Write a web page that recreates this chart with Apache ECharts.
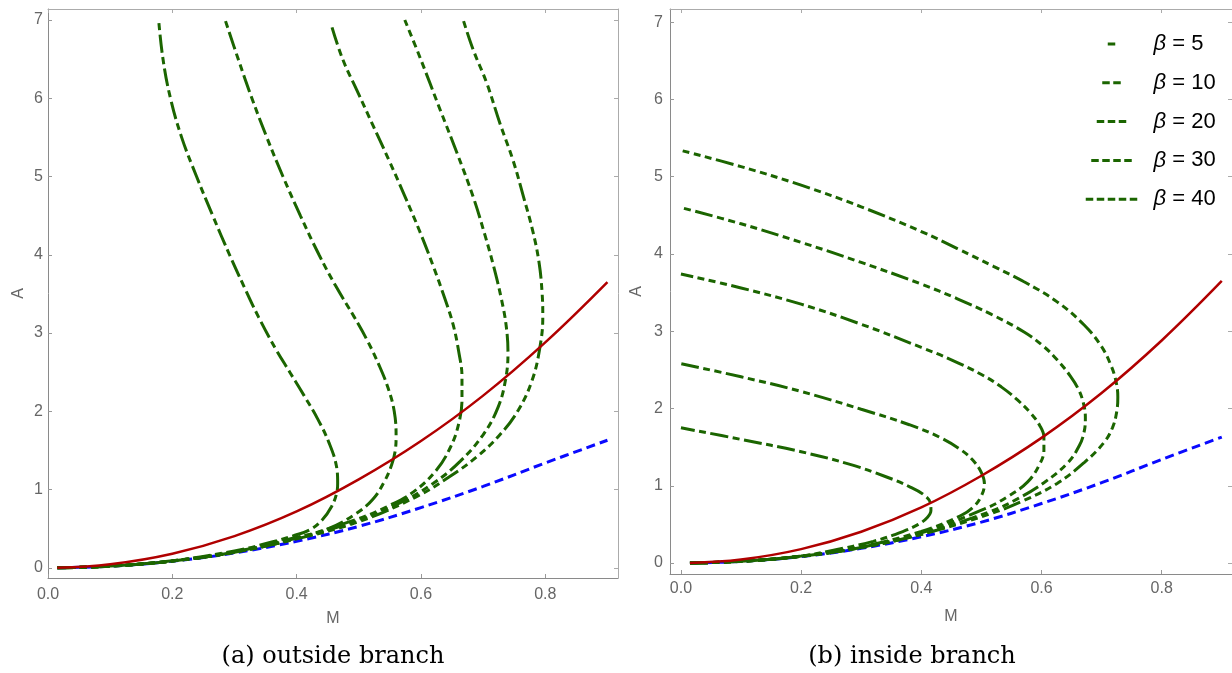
<!DOCTYPE html>
<html><head><meta charset="utf-8">
<script src="https://cdn.jsdelivr.net/npm/echarts@6/dist/echarts.min.js"></script>
<style>html,body{margin:0;padding:0;background:#fff}#c{width:1232px;height:673px}</style>
</head><body><div id="c"></div><script>
// ---------- data ----------
const betaNames = ['β = 5', 'β = 10', 'β = 20', 'β = 30', 'β = 40'];
const legendDashCount = [1, 2, 3, 4, 5];
const xTicks = [0, 0.2, 0.4, 0.6, 0.8];
const yTicks = [0, 1, 2, 3, 4, 5, 6, 7];
const captions = ['(a) outside branch', '(b) inside branch'];

const redCurve = [[0.015,0.001],[0.1,0.045],[0.2,0.18],[0.3,0.405],[0.4,0.72],[0.5,1.13],[0.6,1.62],[0.7,2.2],[0.8,2.88],[0.9,3.65]];
const blueCurve = [[0.015,0.0005],[0.1,0.021],[0.2,0.084],[0.3,0.19],[0.4,0.34],[0.5,0.53],[0.6,0.77],[0.7,1.04],[0.8,1.34],[0.9,1.63]];

// (a) outside branch
const outside5 = [[0.015,0],[0.1,0.022],[0.2,0.09],[0.3,0.215],[0.36,0.33],[0.395,0.41],[0.422,0.49],[0.442,0.62],[0.456,0.78],[0.464,0.94],[0.466,1.08],[0.464,1.3],[0.452,1.6],[0.434,1.9],[0.412,2.2],[0.389,2.5],[0.366,2.8],[0.339,3.2],[0.315,3.6],[0.292,4.0],[0.265,4.5],[0.239,5.0],[0.215,5.5],[0.197,6.0],[0.185,6.5],[0.178,7.0]];
const outside10 = [[0.015,0],[0.1,0.022],[0.2,0.088],[0.3,0.205],[0.4,0.39],[0.448,0.49],[0.497,0.70],[0.523,0.88],[0.541,1.1],[0.553,1.32],[0.559,1.52],[0.560,1.68],[0.557,2.0],[0.547,2.3],[0.532,2.6],[0.514,2.9],[0.493,3.2],[0.463,3.6],[0.436,4.0],[0.406,4.5],[0.378,5.0],[0.352,5.5],[0.328,6.0],[0.306,6.5],[0.285,7.0]];
const outside20 = [[0.015,0],[0.1,0.022],[0.2,0.087],[0.3,0.2],[0.4,0.38],[0.5,0.63],[0.545,0.78],[0.588,0.97],[0.625,1.25],[0.648,1.55],[0.661,1.85],[0.666,2.15],[0.666,2.44],[0.661,2.75],[0.652,3.1],[0.638,3.45],[0.620,3.85],[0.598,4.3],[0.574,4.75],[0.549,5.2],[0.523,5.65],[0.497,6.1],[0.474,6.5],[0.456,6.93]];
const outside30 = [[0.015,0],[0.1,0.022],[0.2,0.087],[0.3,0.2],[0.4,0.375],[0.5,0.61],[0.566,0.83],[0.62,1.08],[0.663,1.36],[0.7,1.70],[0.724,2.05],[0.736,2.4],[0.740,2.75],[0.737,3.1],[0.729,3.45],[0.717,3.85],[0.703,4.25],[0.684,4.74],[0.658,5.30],[0.631,5.85],[0.598,6.53],[0.574,7.0]];
const outside40 = [[0.015,0],[0.1,0.022],[0.2,0.087],[0.3,0.2],[0.4,0.37],[0.5,0.59],[0.593,0.91],[0.647,1.17],[0.69,1.42],[0.727,1.70],[0.757,2.02],[0.779,2.40],[0.791,2.80],[0.796,3.2],[0.795,3.5],[0.790,3.9],[0.780,4.3],[0.765,4.74],[0.748,5.21],[0.727,5.68],[0.706,6.19],[0.684,6.62],[0.668,7.0]];

// (b) inside branch
const inside5 = [[0.015,0],[0.1,0.022],[0.2,0.09],[0.25,0.16],[0.32,0.28],[0.37,0.41],[0.395,0.50],[0.41,0.59],[0.416,0.68],[0.415,0.78],[0.403,0.89],[0.38,0.99],[0.34,1.12],[0.28,1.28],[0.2,1.44],[0.1,1.60],[0,1.75]];
const inside10 = [[0.015,0],[0.1,0.022],[0.2,0.089],[0.3,0.21],[0.4,0.41],[0.465,0.61],[0.486,0.72],[0.5,0.87],[0.505,1.03],[0.5,1.17],[0.487,1.32],[0.465,1.47],[0.43,1.63],[0.38,1.79],[0.3,1.99],[0.2,2.22],[0.1,2.41],[0,2.58]];
const inside20 = [[0.015,0],[0.1,0.022],[0.2,0.088],[0.3,0.205],[0.4,0.39],[0.505,0.70],[0.544,0.86],[0.577,1.05],[0.597,1.28],[0.604,1.46],[0.604,1.63],[0.597,1.78],[0.582,1.94],[0.560,2.11],[0.533,2.28],[0.5,2.44],[0.45,2.63],[0.4,2.79],[0.3,3.09],[0.2,3.35],[0.1,3.56],[0,3.74]];
const inside30 = [[0.015,0],[0.1,0.022],[0.2,0.088],[0.3,0.2],[0.4,0.375],[0.516,0.67],[0.56,0.83],[0.604,1.04],[0.643,1.29],[0.663,1.52],[0.671,1.70],[0.673,1.88],[0.670,2.06],[0.662,2.24],[0.648,2.42],[0.626,2.63],[0.604,2.80],[0.571,2.99],[0.516,3.22],[0.46,3.42],[0.4,3.61],[0.3,3.89],[0.2,4.15],[0.1,4.39],[0,4.60]];
const inside40 = [[0.015,0],[0.1,0.022],[0.2,0.087],[0.3,0.2],[0.4,0.37],[0.516,0.64],[0.571,0.81],[0.626,1.03],[0.671,1.30],[0.704,1.56],[0.718,1.75],[0.725,1.95],[0.727,2.15],[0.724,2.35],[0.716,2.55],[0.700,2.80],[0.671,3.08],[0.626,3.38],[0.571,3.64],[0.52,3.84],[0.46,4.07],[0.4,4.29],[0.3,4.61],[0.2,4.89],[0.1,5.13],[0,5.34]];

const outsideCurves = [outside5, outside10, outside20, outside30, outside40];
const insideCurves = [inside5, inside10, inside20, inside30, inside40];

// ---------- styling ----------
const GREEN = '#1b6500', RED = '#b00000', BLUE = '#0a0aff';
const TICK_COLOR = '#666';
const FONT = 'Liberation Sans';

function curveDash(nShort) {
  const a = [18, 4.5];
  for (let i = 0; i < nShort; i++) a.push(7, 4.5);
  return a;
}
function legendDash(n) {
  const d = 7.5, g = 3.5, L = n * d + (n - 1) * g, off = 37 - L / 2;
  const a = [0, off];
  for (let i = 0; i < n; i++) { a.push(d); a.push(i < n - 1 ? g : 300); }
  return a;
}

const grids = [
  { left: 48, top: 9, width: 570, height: 569 },
  { left: 670, top: 9, width: 566, height: 565 }
];
const xRanges = [[0, 0.917], [-0.0182, 0.917]];
const yRanges = [[-0.13, 7.14], [-0.142, 7.17]];
const xLabelMargin = [9, 7], xNameGap = [33, 35];
const yLabelMargin = [5, 7], yNameGap = [21, 25];

const xAxes = [], yAxes = [];
for (let g = 0; g < 2; g++) {
  xAxes.push({
    type: 'value', gridIndex: g, position: 'bottom', min: xRanges[g][0], max: xRanges[g][1],
    name: 'M', nameLocation: 'middle', nameGap: xNameGap[g],
    nameTextStyle: { color: TICK_COLOR, fontSize: 16, fontFamily: FONT },
    axisLine: { show: true, onZero: false, lineStyle: { color: '#8a8a8a', width: 1 } },
    axisTick: { show: true, inside: true, length: 4, customValues: xTicks, lineStyle: { color: '#999' } },
    axisLabel: { customValues: xTicks, margin: xLabelMargin[g], color: TICK_COLOR, fontSize: 16, fontFamily: FONT,
      formatter: v => v.toFixed(1) },
    splitLine: { show: false }
  });
  xAxes.push({
    type: 'value', gridIndex: g, position: 'top', min: xRanges[g][0], max: xRanges[g][1],
    axisLine: { show: true, onZero: false, lineStyle: { color: '#ababab', width: 1 } },
    axisTick: { show: true, inside: true, length: 4, customValues: xTicks, lineStyle: { color: '#aaa' } },
    axisLabel: { show: false }, splitLine: { show: false }
  });
  yAxes.push({
    type: 'value', gridIndex: g, position: 'left', min: yRanges[g][0], max: yRanges[g][1],
    name: 'A', nameLocation: 'middle', nameGap: yNameGap[g], nameRotate: 90,
    nameTextStyle: { color: TICK_COLOR, fontSize: 16, fontFamily: FONT },
    axisLine: { show: true, onZero: false, lineStyle: { color: '#8a8a8a', width: 1 } },
    axisTick: { show: true, inside: true, length: 4, customValues: yTicks, lineStyle: { color: '#999' } },
    axisLabel: { customValues: yTicks, margin: yLabelMargin[g], color: TICK_COLOR, fontSize: 16, fontFamily: FONT },
    splitLine: { show: false }
  });
  yAxes.push({
    type: 'value', gridIndex: g, position: 'right', min: yRanges[g][0], max: yRanges[g][1],
    axisLine: { show: true, onZero: false, lineStyle: { color: '#ababab', width: 1 } },
    axisTick: { show: true, inside: true, length: 4, customValues: yTicks, lineStyle: { color: '#aaa' } },
    axisLabel: { show: false }, splitLine: { show: false }
  });
}

const series = [];
for (let g = 0; g < 2; g++) {
  const xi = g * 2, yi = g * 2;
  series.push({ type: 'line', xAxisIndex: xi, yAxisIndex: yi, data: blueCurve, symbol: 'none', smooth: 0.4,
    lineStyle: { color: BLUE, width: 3, type: [9, 5] }, z: 2, silent: true });
  const curves = g === 0 ? outsideCurves : insideCurves;
  curves.forEach((c, i) => {
    series.push({ name: betaNames[i], type: 'line', xAxisIndex: xi, yAxisIndex: yi, data: c, symbol: 'none',
      smooth: 0.4, lineStyle: { color: GREEN, width: 3, type: curveDash(i + 1) }, itemStyle: { color: GREEN }, z: 3, silent: true });
  });
  series.push({ type: 'line', xAxisIndex: xi, yAxisIndex: yi, data: redCurve, symbol: 'none', smooth: 0.4,
    lineStyle: { color: RED, width: 2.5 }, z: 4, silent: true });
}

const legends = betaNames.map((n, i) => ({
  data: [n], left: 1073, top: 33 + 38.8 * i, orient: 'vertical', padding: 0,
  itemWidth: 74, itemHeight: 26, selectedMode: false,
  lineStyle: { color: GREEN, width: 3, type: legendDash(legendDashCount[i]) },
  itemStyle: { opacity: 0, color: 'rgba(0,0,0,0)', borderWidth: 0 },
  formatter: name => '{i|β}' + name.slice(1),
  textStyle: { color: '#000', fontSize: 22, fontFamily: FONT,
    rich: { i: { fontStyle: 'italic', fontSize: 22, fontFamily: FONT, color: '#000' } } }
}));

const chart = echarts.init(document.getElementById('c'), null, { renderer: 'canvas' });
chart.setOption({
  animation: false,
  backgroundColor: '#fff',
  grid: grids,
  xAxis: xAxes,
  yAxis: yAxes,
  legend: legends,
  series: series,
  graphic: [
    { type: 'text', x: 333, y: 657, style: { text: captions[0], fontFamily: 'DejaVu Serif', fontSize: 24, fill: '#000', align: 'center', verticalAlign: 'middle' } },
    { type: 'text', x: 912, y: 657, style: { text: captions[1], fontFamily: 'DejaVu Serif', fontSize: 24, fill: '#000', align: 'center', verticalAlign: 'middle' } }
  ]
});
</script></body></html>
